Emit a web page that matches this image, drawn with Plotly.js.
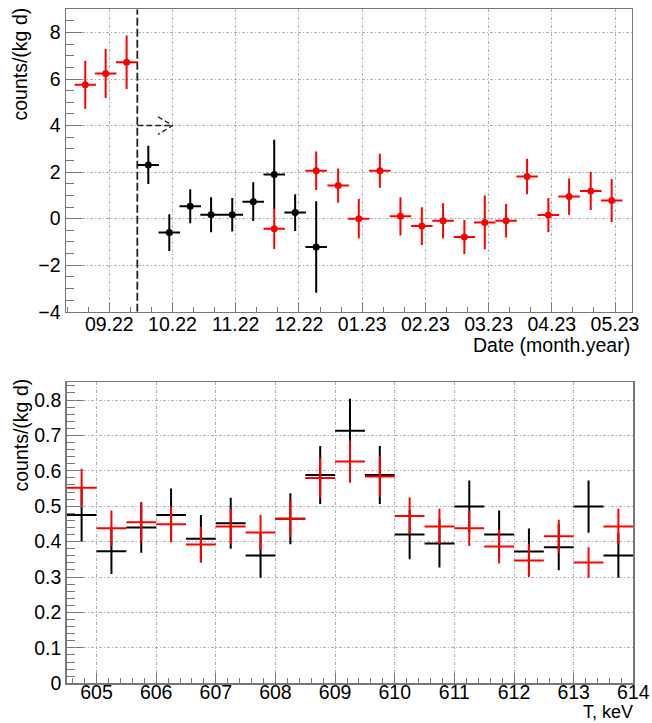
<!DOCTYPE html>
<html>
<head>
<meta charset="utf-8">
<script src="https://cdn.plot.ly/plotly-3.0.1.min.js"></script>
<style>
  html, body { margin: 0; padding: 0; background: #fff; }
  #chart { width: 652px; height: 723px; }
</style>
</head>
<body>
<div id="chart"></div>
<script>
// ---------- Top panel data (x = month index, 0 = 09.22) ----------
const monthTickVals = [0, 1, 2, 3, 4, 5, 6, 7, 8];
const monthTickText = ["09.22", "10.22", "11.22", "12.22", "01.23", "02.23", "03.23", "04.23", "05.23"];

const blackTimeX   = [0.617, 0.949, 1.280, 1.610, 1.945, 2.277, 2.609, 2.940, 3.273];
const blackTimeY   = [2.31, -0.60, 0.53, 0.17, 0.17, 0.73, 1.90, 0.26, -1.22];
const blackTimeErr = [0.82, 0.79, 0.73, 0.75, 0.72, 0.83, 1.49, 0.79, 1.97];

const redTimeX   = [-0.380, -0.058, 0.274, 2.609, 3.273, 3.620, 3.947, 4.280, 4.606, 4.944, 5.280, 5.617, 5.940, 6.277, 6.609, 6.946, 7.273, 7.616, 7.947];
const redTimeY   = [5.76, 6.24, 6.72, -0.43, 2.06, 1.42, 0.00, 2.06, 0.10, -0.32, -0.09, -0.79, -0.16, -0.09, 1.81, 0.16, 0.95, 1.19, 0.78];
const redTimeErr = [1.03, 1.05, 1.15, 0.87, 0.83, 0.74, 0.84, 0.73, 0.82, 0.81, 0.75, 0.73, 1.15, 0.72, 0.76, 0.73, 0.78, 0.82, 0.92];

const timeBinHalfWidth = 0.17;   // half of a 10-day bin in month units
const cutX = 0.443;              // dashed boundary line position
const arrowY = 4;                // dashed arrow level
const arrowEndX = 1.0;           // arrow tip

// ---------- Bottom panel data (energy, keV) ----------
const energyX = [604.75, 605.25, 605.75, 606.25, 606.75, 607.25, 607.75, 608.25, 608.75, 609.25,
                 609.75, 610.25, 610.75, 611.25, 611.75, 612.25, 612.75, 613.25, 613.75];
const blackE    = [0.475, 0.373, 0.440, 0.475, 0.408, 0.452, 0.361, 0.465, 0.588, 0.7135,
                   0.588, 0.420, 0.395, 0.499, 0.420, 0.372, 0.384, 0.499, 0.361];
const blackEErr = [0.075, 0.064, 0.071, 0.075, 0.067, 0.072, 0.063, 0.072, 0.082, 0.090,
                   0.082, 0.070, 0.068, 0.074, 0.068, 0.065, 0.065, 0.074, 0.063];
const redE      = [0.552, 0.438, 0.455, 0.449, 0.392, 0.443, 0.4255, 0.465, 0.580, 0.626,
                   0.584, 0.4725, 0.443, 0.4377, 0.386, 0.347, 0.415, 0.341, 0.443];
const redEErr   = [0.054, 0.050, 0.055, 0.051, 0.050, 0.050, 0.050, 0.052, 0.057, 0.060,
                   0.057, 0.052, 0.050, 0.050, 0.048, 0.047, 0.047, 0.043, 0.050];
const energyBinHalfWidth = 0.25;

// ---------- Styling helpers ----------
const FONT = "Liberation Sans, Arial, Helvetica, sans-serif";
const W = 652, H = 723;

function errX(arrLen, hw) {
  return { type: "data", symmetric: true, array: new Array(arrLen).fill(hw), width: 0, thickness: 2 };
}

const traces = [];

// vertical dashed line
traces.push({
  x: [cutX, cutX], y: [-4, 9], xaxis: "x", yaxis: "y",
  mode: "lines", line: { color: "#222", width: 1.8, dash: "8px,3px" },
  hoverinfo: "skip"
});
// dashed arrow shaft
traces.push({
  x: [cutX, arrowEndX], y: [arrowY, arrowY], xaxis: "x", yaxis: "y",
  mode: "lines", line: { color: "#222", width: 1.5, dash: "6px,3px" },
  hoverinfo: "skip"
});
// dashed arrow head (open)
traces.push({
  x: [arrowEndX - 0.23, arrowEndX, arrowEndX - 0.23],
  y: [arrowY + 0.38, arrowY, arrowY - 0.38], xaxis: "x", yaxis: "y",
  mode: "lines", line: { color: "#222", width: 1.3, dash: "5px,3px" },
  hoverinfo: "skip"
});

// top black series
traces.push({
  x: blackTimeX, y: blackTimeY, xaxis: "x", yaxis: "y",
  mode: "markers", marker: { color: "#000", size: 7 },
  error_y: { type: "data", array: blackTimeErr, color: "#000", width: 0, thickness: 2 },
  error_x: Object.assign(errX(blackTimeX.length, timeBinHalfWidth), { color: "#000" })
});
// top red series
traces.push({
  x: redTimeX, y: redTimeY, xaxis: "x", yaxis: "y",
  mode: "markers", marker: { color: "#ff0000", size: 7 },
  error_y: { type: "data", array: redTimeErr, color: "#ff0000", width: 0, thickness: 2 },
  error_x: Object.assign(errX(redTimeX.length, timeBinHalfWidth), { color: "#ff0000" })
});

// bottom black
traces.push({
  x: energyX, y: blackE, xaxis: "x2", yaxis: "y2",
  mode: "markers", marker: { color: "#000", size: 0.1, opacity: 0 },
  error_y: { type: "data", array: blackEErr, color: "#000", width: 0, thickness: 2 },
  error_x: Object.assign(errX(energyX.length, energyBinHalfWidth), { color: "#000" })
});
// bottom red
traces.push({
  x: energyX, y: redE, xaxis: "x2", yaxis: "y2",
  mode: "markers", marker: { color: "#ff0000", size: 0.1, opacity: 0 },
  error_y: { type: "data", array: redEErr, color: "#ff0000", width: 0, thickness: 2 },
  error_x: Object.assign(errX(energyX.length, energyBinHalfWidth), { color: "#ff0000" })
});

const gridStyle = { showgrid: true, gridcolor: "#b0b0b0", gridwidth: 1, griddash: "3px,2px,1px,2px" };
const lineStyle = { showline: true, linecolor: "#777", linewidth: 1.5, mirror: true, zeroline: false };
const tickFont = { family: FONT, size: 19.5, color: "#000" };

const layout = {
  width: W, height: H,
  margin: { l: 0, r: 0, t: 0, b: 0 },
  paper_bgcolor: "#fff", plot_bgcolor: "#fff",
  showlegend: false, hovermode: false,
  xaxis: Object.assign({
    domain: [66 / W, 631.7 / W], anchor: "y",
    range: [-0.685, 8.264],
    tickmode: "array", tickvals: monthTickVals, ticktext: monthTickText,
    ticks: "inside", ticklen: 10, tickcolor: "#777", tickwidth: 1,
    tickfont: tickFont, ticklabelstandoff: -6,
    minor: { tickmode: "linear", tick0: 0, dtick: 1 / 3, ticks: "inside", ticklen: 5, tickcolor: "#777", showgrid: false }
  }, gridStyle, lineStyle),
  yaxis: Object.assign({
    domain: [1 - 311.7 / H, 1 - 9.3 / H], anchor: "x",
    range: [-4, 9],
    tickmode: "linear", tick0: 0, dtick: 2,
    ticks: "inside", ticklen: 16, tickcolor: "#777", tickwidth: 1,
    tickfont: tickFont,
    minor: { tickmode: "linear", tick0: 0, dtick: 0.5, ticks: "inside", ticklen: 8, tickcolor: "#777", showgrid: false }
  }, gridStyle, lineStyle),
  xaxis2: Object.assign({
    domain: [66.7 / W, 633.3 / W], anchor: "y2",
    range: [604.5, 614],
    tickmode: "linear", tick0: 605, dtick: 1,
    ticks: "inside", ticklen: 10, tickcolor: "#777", tickwidth: 1,
    tickfont: tickFont, ticklabelstandoff: -9,
    minor: { tickmode: "linear", tick0: 605, dtick: 0.2, ticks: "inside", ticklen: 5, tickcolor: "#777", showgrid: false }
  }, gridStyle, lineStyle),
  yaxis2: Object.assign({
    domain: [1 - 683.3 / H, 1 - 382.3 / H], anchor: "x2",
    range: [0, 0.85],
    tickmode: "linear", tick0: 0, dtick: 0.1,
    ticks: "inside", ticklen: 16, tickcolor: "#777", tickwidth: 1,
    tickfont: tickFont,
    minor: { tickmode: "linear", tick0: 0, dtick: 0.02, ticks: "inside", ticklen: 8, tickcolor: "#777", showgrid: false }
  }, gridStyle, lineStyle),
  annotations: [
    { text: "counts/(kg d)", textangle: -90, xref: "paper", yref: "paper",
      x: 20 / W, y: 1 - 6 / H, xanchor: "center", yanchor: "top", showarrow: false,
      font: { family: FONT, size: 19.5, color: "#000" } },
    { text: "Date (month.year)", xref: "paper", yref: "paper",
      x: 632 / W, y: 1 - 345 / H, xanchor: "right", yanchor: "middle", showarrow: false,
      font: { family: FONT, size: 19.5, color: "#000" } },
    { text: "counts/(kg d)", textangle: -90, xref: "paper", yref: "paper",
      x: 20 / W, y: 1 - 377 / H, xanchor: "center", yanchor: "top", showarrow: false,
      font: { family: FONT, size: 19.5, color: "#000" } },
    { text: "T, keV", xref: "paper", yref: "paper", borderpad: 0,
      x: 633.5 / W, y: 0, xanchor: "right", yanchor: "bottom", showarrow: false,
      font: { family: FONT, size: 18, color: "#000" } }
  ]
};

Plotly.newPlot("chart", traces, layout, { staticPlot: true, displayModeBar: false });
</script>
</body>
</html>
